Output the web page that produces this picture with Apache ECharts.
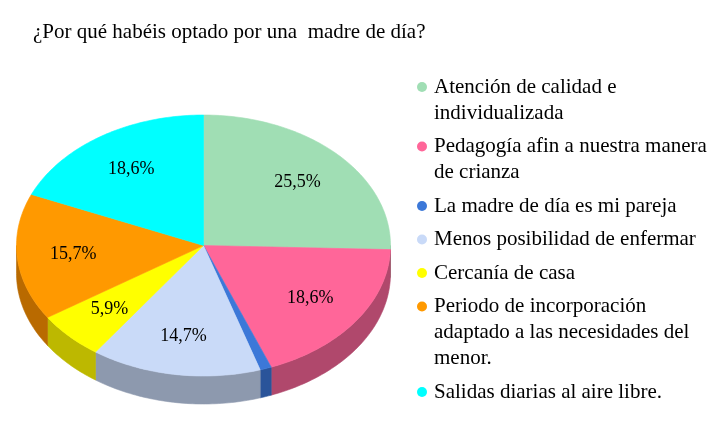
<!DOCTYPE html>
<html><head><meta charset="utf-8">
<script src="https://cdn.jsdelivr.net/npm/echarts@6/dist/echarts.min.js"></script>
<style>html,body{margin:0;padding:0;background:#fff}#c{width:717px;height:425px}</style>
</head><body><div id="c"></div>
<script>
const titleText = '¿Por qué habéis optado por una  madre de día?';
const categories = [
  'Atención de calidad e individualizada',
  'Pedagogía afin a nuestra manera de crianza',
  'La madre de día es mi pareja',
  'Menos posibilidad de enfermar',
  'Cercanía de casa',
  'Periodo de incorporación adaptado a las necesidades del menor.',
  'Salidas diarias al aire libre.'
];
const values = [25.5, 18.6, 1.0, 14.7, 5.9, 15.7, 18.6];
const topColors = ['#A0DEB4', '#FF6699', '#3C78D8', '#C9DAF8', '#FFFF00', '#FF9900', '#00FFFF'];
const sideColors = ['#70A07E', '#B0486C', '#2A549A', '#8D99AE', '#BDB800', '#B96A00', '#00B3B3'];

const FONT = '"Liberation Serif", "Times New Roman", serif';
const LEGEND_FS = 21;
const geo = {cx: 203.5, cy: 245.5, rx: 187, ry: 130.5, depth: 28, labelR: 0.7};
const total = values.reduce((a, b) => a + b, 0);
const starts = [];
{ let acc = 0; values.forEach(v => { starts.push(acc); acc += v; }); }

function pt(theta, dy) {
  return [geo.cx + geo.rx * Math.sin(theta), geo.cy - geo.ry * Math.cos(theta) + (dy || 0)];
}
function arc(a0, a1, dy) {
  const n = Math.max(2, Math.ceil((a1 - a0) / (Math.PI / 180)));
  const pts = [];
  for (let k = 0; k <= n; k++) pts.push(pt(a0 + (a1 - a0) * k / n, dy));
  return pts;
}
function renderSlice(i) {
  return function (params, api) {
    const v = api.value(0);
    const a0 = starts[i] / total * 2 * Math.PI;
    const a1 = a0 + v / total * 2 * Math.PI;
    const children = [];
    const s = Math.max(a0, Math.PI / 2), e = Math.min(a1, 1.5 * Math.PI);
    if (e > s) {
      const up = arc(s, e, 0), low = arc(s, e, geo.depth).reverse();
      children.push({type: 'polygon', shape: {points: up.concat(low)},
        style: {fill: sideColors[i], stroke: sideColors[i], lineWidth: 0.6}, z2: 1});
    }
    children.push({type: 'polygon', shape: {points: [[geo.cx, geo.cy]].concat(arc(a0, a1, 0))},
      style: {fill: topColors[i], stroke: topColors[i], lineWidth: 0.6}, z2: 2});
    const pct = v / total * 100;
    if (pct >= 3) {
      const m = (a0 + a1) / 2;
      children.push({type: 'text',
        x: geo.cx + geo.labelR * geo.rx * Math.sin(m),
        y: geo.cy - geo.labelR * geo.ry * Math.cos(m),
        style: {text: pct.toFixed(1).replace('.', ',') + '%', fill: '#000',
          font: '18px ' + FONT, align: 'center', verticalAlign: 'middle'}, z2: 3});
    }
    return {type: 'group', children};
  };
}

const measureCtx = document.createElement('canvas').getContext('2d');
measureCtx.font = LEGEND_FS + 'px ' + FONT;
function wrap(text, maxW) {
  const words = text.split(' ');
  const lines = [];
  let cur = '';
  words.forEach(w => {
    const t = cur ? cur + ' ' + w : w;
    if (cur && measureCtx.measureText(t).width > maxW) { lines.push(cur); cur = w; }
    else cur = t;
  });
  if (cur) lines.push(cur);
  return lines;
}

const rich = {
  g: {width: 7, fontSize: 1, lineHeight: 26},
  ind: {width: 17, fontSize: 1, lineHeight: 26},
  t: {fontSize: LEGEND_FS, fontFamily: FONT, color: '#000', lineHeight: 26}
};
topColors.forEach((c, i) => {
  rich['d' + i] = {width: 10, height: 10, borderRadius: 5, backgroundColor: c, fontSize: 1, lineHeight: 26};
});

const chart = echarts.init(document.getElementById('c'), null, {renderer: 'canvas'});
chart.setOption({
  animation: false,
  backgroundColor: '#fff',
  title: {
    text: titleText, left: 33, top: 22, padding: 0,
    textStyle: {fontFamily: FONT, fontSize: 21, fontWeight: 'normal', color: '#000'}
  },
  legend: {
    orient: 'vertical', left: 412, top: 74, padding: 0, itemGap: 7.5,
    icon: 'none', itemWidth: 0, itemHeight: 2, selectedMode: false,
    data: categories,
    formatter: function (name) {
      const i = categories.indexOf(name);
      return wrap(name, 282).map((ln, k) =>
        (k === 0 ? '{d' + i + '| }{g| }' : '{ind| }') + '{t|' + ln + '}').join('\n');
    },
    textStyle: {fontFamily: FONT, fontSize: LEGEND_FS, color: '#000', lineHeight: 26, rich: rich}
  },
  series: categories.map((name, i) => ({
    type: 'custom', name: name, coordinateSystem: 'none', silent: true,
    data: [[values[i]]], renderItem: renderSlice(i)
  }))
});
</script></body></html>
